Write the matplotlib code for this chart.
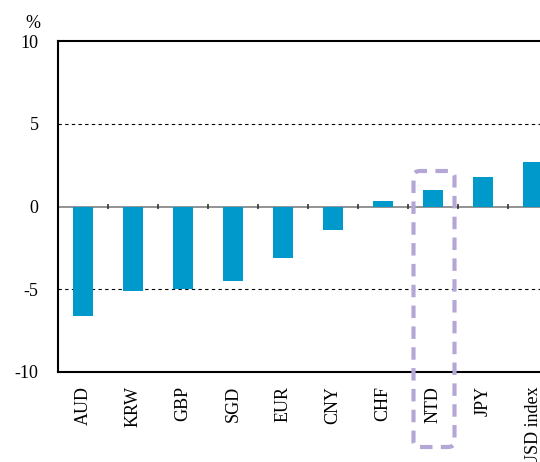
import numpy as np
import matplotlib.pyplot as plt
from matplotlib.patches import FancyBboxPatch

currencies = ["AUD", "KRW", "GBP", "SGD", "EUR", "CNY", "CHF", "NTD", "JPY", "USD index"]
changes = [-6.6, -5.1, -5.0, -4.5, -3.1, -1.4, 0.35, 1.0, 1.8, 2.7]
y_ticks = [-10, -5, 0, 5, 10]

plt.rcParams['font.family'] = ['Liberation Serif', 'DejaVu Serif']

fig = plt.figure(figsize=(5.4, 4.62), dpi=100)
# axes run past the right edge of the figure, like the original
ax = fig.add_axes([58 / 540, 1 - 372 / 462, 500 / 540, 331 / 462])

x = np.arange(len(currencies))
ax.bar(x, changes, width=0.4, color='#0099cc', zorder=3)

ax.set_xlim(-0.5, len(currencies) - 0.5)
ax.set_ylim(-10, 10)
ax.set_yticks(y_ticks)
ax.set_yticklabels([str(v) for v in y_ticks], fontsize=13)
ax.tick_params(axis='y', length=0, pad=14)
ax.set_xticks(x)
ax.set_xticklabels(currencies, rotation=90, fontsize=13, va='top')
ax.tick_params(axis='x', length=0, pad=10)

# dashed grid at +/-5, grey zero line with category separators
for v in [-5, 5]:
    ax.axhline(v, color='black', lw=0.8, ls=(0, (3, 3)), zorder=1)
ax.axhline(0, color='#808080', lw=1.2, zorder=2)
ax.vlines(x[:-1] + 0.5, -0.15, 0.15, color='#333333', lw=1.2, zorder=2)

for s in ['left', 'top', 'bottom']:
    ax.spines[s].set_color('black')
    ax.spines[s].set_linewidth(1.5)
ax.spines['right'].set_visible(False)

fig.text(33 / 540, 1 - 23 / 462, '%', fontsize=13, ha='center', va='center')

# highlight box around NTD
nt = currencies.index("NTD")
x0 = ax.transData.transform((nt - 0.39, 0))[0]
x1 = ax.transData.transform((nt + 0.43, 0))[0]
box = FancyBboxPatch((x0 / 540, 1 - 447 / 462), (x1 - x0) / 540, (447 - 171) / 462,
                     boxstyle='round,pad=0,rounding_size=0.012',
                     transform=fig.transFigure, fill=False,
                     edgecolor='#b4a7d6', lw=3, ls=(0, (3, 2)), clip_on=False, zorder=5)
fig.patches.append(box)

fig.savefig('out.png', dpi=100)
